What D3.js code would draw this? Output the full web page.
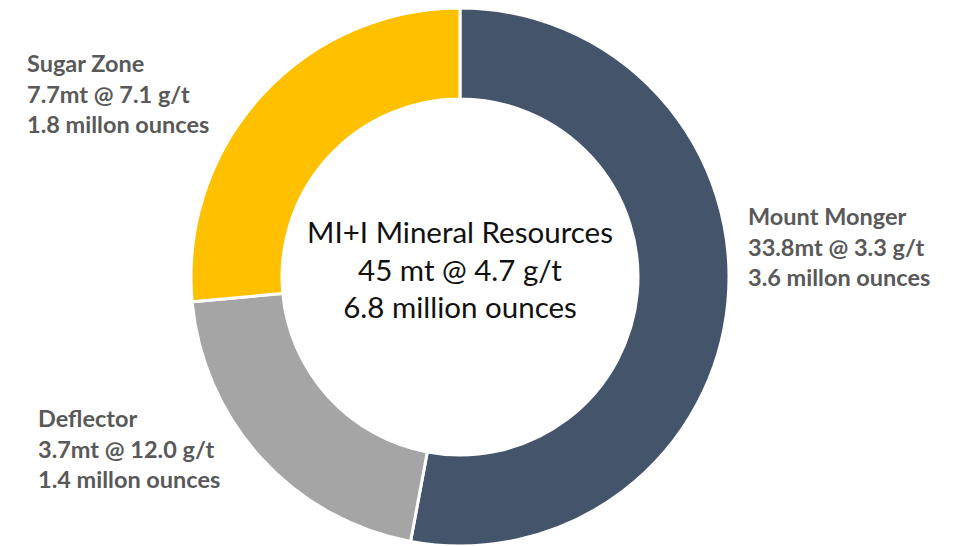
<!DOCTYPE html>
<html>
<head>
<meta charset="utf-8">
<script src="https://cdn.jsdelivr.net/npm/d3@7/dist/d3.min.js"></script>
<style>
  html, body { margin: 0; padding: 0; background: #fff; }
  svg { display: block; }
</style>
</head>
<body>
<svg id="canvas" width="959" height="546"></svg>
<script>
// data
const categories = ["Mount Monger", "Deflector", "Sugar Zone"];
const ounces = [3.6, 1.4, 1.8];          // million ounces
const tonnes = ["33.8", "3.7", "7.7"];   // mt
const grades = ["3.3", "12.0", "7.1"];   // g/t
const colors = ["#44546A", "#A5A5A5", "#FFC000"];

const centerLines = ["MI+I Mineral Resources", "45 mt @ 4.7 g/t", "6.8 million ounces"];

const CX = 460;
const CY = 277;
const OUTER = 269;
const INNER = 178;
const TEXT_GREY = "#595959";

// label block positions (left x, first baseline y), as placed in the original slide
const labelPos = [
  { x: 748, y: 225 },
  { x: 38, y: 427 },
  { x: 27, y: 72 }
];

const CANVAS = d3.select("#canvas");

const g = CANVAS.append("g")
  .attr("transform", `translate(${CX},${CY})`);

const pie = d3.pie()
  .value(d => d)
  .sort(null);

const arc = d3.arc()
  .innerRadius(INNER)
  .outerRadius(OUTER);

g.selectAll("path")
  .data(pie(ounces))
  .join("path")
  .attr("d", arc)
  .attr("fill", (d, i) => colors[i])
  .attr("stroke", "#fff")
  .attr("stroke-width", 3);

// centre text
g.selectAll("text.center")
  .data(centerLines)
  .join("text")
  .attr("class", "center")
  .attr("x", 0)
  .attr("y", (d, i) => -34 + i * 37.5)
  .attr("text-anchor", "middle")
  .style("font-family", "Lato, 'Open Sans', sans-serif")
  .style("font-size", "29.5px")
  .style("fill", "#111")
  .text(d => d);

// outside labels
categories.forEach((name, i) => {
  const lines = [
    name,
    `${tonnes[i]}mt @ ${grades[i]} g/t`,
    `${ounces[i].toFixed(1)} millon ounces`
  ];
  CANVAS.append("g")
    .selectAll("text")
    .data(lines)
    .join("text")
    .attr("x", labelPos[i].x)
    .attr("y", (d, j) => labelPos[i].y + j * 30.5)
    .style("font-family", "Lato, sans-serif")
    .style("font-weight", "bold")
    .style("font-size", "23.5px")
    .style("fill", TEXT_GREY)
    .text(d => d);
});
</script>
</body>
</html>
